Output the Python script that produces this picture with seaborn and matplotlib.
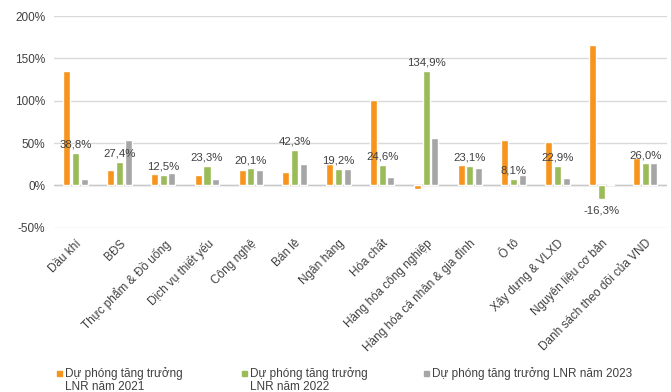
import matplotlib
matplotlib.use("Agg")
import matplotlib.pyplot as plt
from matplotlib.patches import Rectangle
from matplotlib.ticker import FuncFormatter
import seaborn as sns
import pandas as pd

categories = [
    "Dầu khí", "BĐS", "Thực phẩm & Đồ uống", "Dịch vụ thiết yếu", "Công nghệ",
    "Bán lẻ", "Ngân hàng", "Hóa chất", "Hàng hóa công nghiệp",
    "Hàng hóa cá nhân & gia đình", "Ô tô", "Xây dựng & VLXD",
    "Nguyên liệu cơ bản", "Danh sách theo dõi của VND",
]
series_names = [
    "Dự phóng tăng trưởng\nLNR năm 2021",
    "Dự phóng tăng trưởng\nLNR năm 2022",
    "Dự phóng tăng trưởng LNR năm 2023",
]
growth_2021 = [135.0, 18.5, 13.8, 12.0, 18.5, 15.4, 25.0, 100.6, -4.4, 24.5, 53.6, 51.3, 166.0, 32.8]
growth_2022 = [38.8, 27.4, 12.5, 23.3, 20.1, 42.3, 19.2, 24.6, 134.9, 23.1, 8.1, 22.9, -16.3, 26.0]
growth_2023 = [8.0, 54.0, 15.0, 7.0, 17.7, 25.6, 19.7, 9.8, 55.6, 21.0, 12.6, 8.7, 1.5, 26.4]
yticks = [-50, 0, 50, 100, 150, 200]

colors = ["#F7941D", "#9BBB59", "#A6A6A6"]
text_color = "#404040"

rows = []
for name, vals in zip(series_names, [growth_2021, growth_2022, growth_2023]):
    for c, v in zip(categories, vals):
        rows.append({"Ngành": c, "Tăng trưởng": v, "Chuỗi": name})
df = pd.DataFrame(rows)

sns.set_style("white")
plt.rcParams["font.family"] = ["Liberation Sans", "DejaVu Sans"]

fig = plt.figure(figsize=(6.71, 3.92), dpi=100)
ax = fig.add_axes([0.080, 0.419, 0.914, 0.540])

sns.barplot(data=df, x="Ngành", y="Tăng trưởng", hue="Chuỗi", order=categories,
            hue_order=series_names, palette=colors, width=0.6, gap=0.2,
            saturation=1, errorbar=None, legend=False, ax=ax, zorder=3)

# value labels on the 2022 series
green_bars = ax.containers[1]
for bar, v in zip(green_bars, growth_2022):
    x = bar.get_x() + bar.get_width() / 2
    txt = f"{v:.1f}%".replace(".", ",")
    if v >= 0:
        ax.text(x, v + 4, txt, ha="center", va="bottom", fontsize=8.2, color=text_color, zorder=4)
    else:
        ax.text(x, v - 8, txt, ha="center", va="top", fontsize=8.2, color=text_color, zorder=4)

ax.set_ylim(-50, 200)
ax.set_xlim(-0.5, len(categories) - 0.5)
ax.set_yticks(yticks)
ax.yaxis.set_major_formatter(FuncFormatter(lambda v, _: f"{v:.0f}%"))
ax.grid(axis="y", color="#D9D9D9", linewidth=1, zorder=0)
ax.axhline(0, color="#C8C8C8", linewidth=1, zorder=2)
for s in ax.spines.values():
    s.set_visible(False)
ax.set_xlabel("")
ax.set_ylabel("")
ax.tick_params(axis="y", length=0, labelsize=8.5, labelcolor=text_color, pad=6)
ax.tick_params(axis="x", length=0, labelsize=8.5, labelcolor=text_color, pad=7)
for lbl in ax.get_xticklabels():
    lbl.set_rotation(45)
    lbl.set_ha("right")
    lbl.set_rotation_mode("anchor")

# legend drawn along the bottom
legend_x = [0.0969, 0.3726, 0.644]
for lx, name, col in zip(legend_x, series_names, colors):
    fig.patches.append(Rectangle((lx - 0.0115, 0.041), 0.0075, 0.0128,
                                 transform=fig.transFigure, color=col))
    fig.text(lx, 0.0635, name, ha="left", va="top", fontsize=8.5,
             color=text_color, linespacing=1.12)

fig.savefig("out.png", dpi=100)
